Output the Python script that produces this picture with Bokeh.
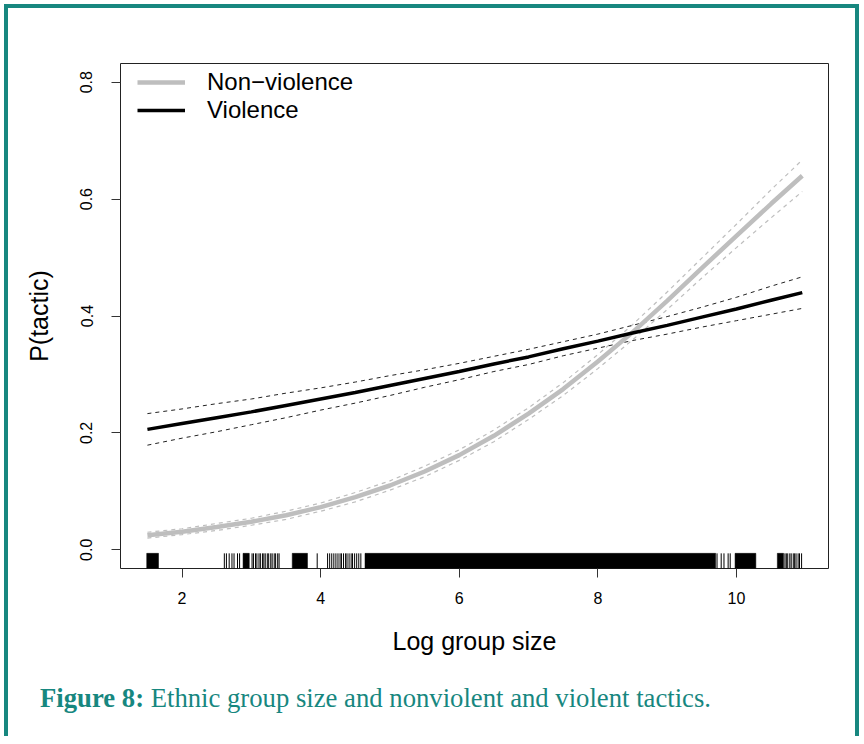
from bokeh.plotting import figure
from bokeh.layouts import column
from bokeh.models import Range1d, FixedTicker, Legend, LegendItem, Div
from bokeh.embed import file_html
from bokeh.resources import INLINE

# ---------------- data ----------------
log_size = [1.5, 2.0, 2.5, 3.0, 3.5, 4.0, 4.5, 5.0, 5.5, 6.0,
            6.5, 7.0, 7.5, 8.0, 8.5, 9.0, 9.5, 10.0, 10.5, 10.95]

p_nonviolence = [0.025, 0.031, 0.039, 0.048, 0.059, 0.073, 0.090, 0.110, 0.134, 0.162,
                 0.195, 0.233, 0.275, 0.322, 0.372, 0.426, 0.482, 0.537, 0.592, 0.640]
nonviolence_lo = [0.020, 0.026, 0.033, 0.042, 0.052, 0.066, 0.082, 0.102, 0.125, 0.153,
                  0.185, 0.223, 0.264, 0.310, 0.359, 0.411, 0.465, 0.517, 0.568, 0.613]
nonviolence_hi = [0.030, 0.036, 0.045, 0.054, 0.066, 0.080, 0.098, 0.118, 0.143, 0.171,
                  0.205, 0.243, 0.286, 0.334, 0.385, 0.441, 0.499, 0.557, 0.616, 0.667]

p_violence = [0.206, 0.216, 0.226, 0.236, 0.247, 0.258, 0.269, 0.281, 0.293, 0.305,
              0.318, 0.330, 0.344, 0.357, 0.371, 0.384, 0.398, 0.412, 0.427, 0.440]
violence_lo = [0.179, 0.191, 0.202, 0.214, 0.226, 0.239, 0.251, 0.264, 0.278, 0.291,
               0.305, 0.317, 0.332, 0.345, 0.358, 0.369, 0.381, 0.392, 0.403, 0.413]
violence_hi = [0.233, 0.241, 0.250, 0.258, 0.268, 0.277, 0.287, 0.298, 0.308, 0.319,
               0.331, 0.343, 0.356, 0.369, 0.384, 0.399, 0.415, 0.432, 0.451, 0.467]

# rug: stretches where observations are so dense the ticks merge, and single ticks
rug_block_start = [1.49, 2.88, 3.59, 4.64, 9.98, 10.59]
rug_block_end = [1.66, 2.97, 3.81, 9.70, 10.28, 10.68]
rug_ticks = [2.61, 2.64, 2.68, 2.72, 2.75, 2.80, 2.83,
             3.01, 3.03, 3.06, 3.08, 3.11, 3.13, 3.16, 3.18, 3.20, 3.23, 3.25,
             3.28, 3.30, 3.33, 3.35, 3.38, 3.40, 3.95,
             4.10, 4.13, 4.16, 4.19, 4.22, 4.25, 4.28, 4.30, 4.33, 4.36, 4.38,
             4.41, 4.44, 4.46, 4.49, 4.52, 4.55, 4.58,
             9.72, 9.78, 9.82, 9.88, 9.91,
             10.70, 10.72, 10.74, 10.77, 10.79, 10.82, 10.84, 10.86, 10.89, 10.91, 10.94]

x_ticks = [2, 4, 6, 8, 10]
y_ticks = [0.0, 0.2, 0.4, 0.6, 0.8]
y_tick_labels = ["0.0", "0.2", "0.4", "0.6", "0.8"]

series_names = ["Non\u2212violence", "Violence"]
x_title = "Log group size"
y_title = "P(tactic)"
caption_bold = "Figure 8:"
caption_text = "Ethnic group size and nonviolent and violent tactics."

# ---------------- styling ----------------
TEAL = "#17877f"
GRAY = "#bebebe"
SANS = "Liberation Sans"
SERIF = "Liberation Serif"
W = 847

# R-style ranges: data range extended by 4% on each side
xmin, xmax = min(rug_block_start + log_size), max(rug_ticks + log_size)
xpad = 0.04 * (xmax - xmin)
ymin, ymax = 0.0, 0.8
ypad = 0.04 * (ymax - ymin)

p = figure(width=W, height=660, output_backend="svg", toolbar_location=None,
           x_range=Range1d(xmin - xpad, xmax + xpad),
           y_range=Range1d(ymin - ypad, ymax + ypad),
           min_border_left=112, min_border_right=27,
           min_border_top=55, min_border_bottom=100)
p.background_fill_color = "white"
p.border_fill_color = "white"
p.outline_line_color = "#222222"
p.outline_line_width = 1
p.xgrid.visible = False
p.ygrid.visible = False

for ax in (p.xaxis[0], p.yaxis[0]):
    ax.axis_line_color = None
    ax.major_tick_in = 0
    ax.major_tick_out = 9
    ax.major_tick_line_color = "#333333"
    ax.minor_tick_line_color = None
    ax.major_label_text_font = SANS
    ax.major_label_text_font_size = "16px"
    ax.major_label_text_color = "black"
    ax.axis_label_text_font = SANS
    ax.axis_label_text_font_size = "25px"
    ax.axis_label_text_font_style = "normal"
    ax.axis_label_text_color = "black"

p.xaxis.ticker = FixedTicker(ticks=x_ticks)
p.xaxis.major_label_standoff = 14
p.xaxis.axis_label = x_title
p.xaxis.axis_label_standoff = 20

p.yaxis.ticker = FixedTicker(ticks=y_ticks)
p.yaxis.major_label_overrides = {t: s for t, s in zip(y_ticks, y_tick_labels)}
p.yaxis.major_label_orientation = "vertical"
p.yaxis.major_label_standoff = 19
p.yaxis.axis_label = y_title
p.yaxis.axis_label_standoff = 25

# confidence bands (dashed)
p.line(log_size, nonviolence_lo, line_color=GRAY, line_width=1.2, line_dash="4 4")
p.line(log_size, nonviolence_hi, line_color=GRAY, line_width=1.2, line_dash="4 4")
p.line(log_size, violence_lo, line_color="#222222", line_width=1, line_dash="4 4")
p.line(log_size, violence_hi, line_color="#222222", line_width=1, line_dash="4 4")

# fitted probabilities
r_nv = p.line(log_size, p_nonviolence, line_color=GRAY, line_width=4.5)
r_v = p.line(log_size, p_violence, line_color="black", line_width=3.5)

# rug along the x axis (tick length 3% of the plot height)
rug_bottom = ymin - ypad
rug_top = rug_bottom + 0.03 * ((ymax + ypad) - (ymin - ypad))
p.quad(left=rug_block_start, right=rug_block_end,
       bottom=rug_bottom, top=rug_top, fill_color="black", line_color="black",
       line_width=0.5)
p.segment(x0=rug_ticks, x1=rug_ticks, y0=rug_bottom, y1=rug_top,
          line_color="black", line_width=1)

legend = Legend(items=[LegendItem(label=series_names[0], renderers=[r_nv]),
                       LegendItem(label=series_names[1], renderers=[r_v])],
                location=(17, 444), margin=0, padding=0, spacing=0,
                glyph_width=48, glyph_height=26, label_standoff=22,
                label_text_font=SANS, label_text_font_size="24px",
                label_text_color="black",
                border_line_color=None, background_fill_alpha=0)
p.add_layout(legend)

# caption below the chart
caption = Div(text=f"<b>{caption_bold}</b> {caption_text}", width=W, height=68,
              styles={"font-family": SERIF, "font-size": "26.7px", "color": TEAL,
                      "line-height": "30px", "padding": "15px 0 0 32px",
                      "box-sizing": "border-box", "margin": "0",
                      "background-color": "white"})

layout = column(p, caption, spacing=0)
layout.styles = {"border-style": "solid", "border-color": TEAL,
                 "border-width": "4px 4px 0 4px", "box-sizing": "content-box",
                 "margin": "4px 0 0 4px"}

open("out.html", "w").write(file_html(layout, INLINE))
